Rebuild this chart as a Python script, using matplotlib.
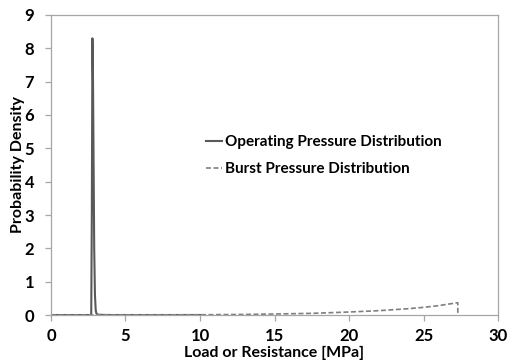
import matplotlib
matplotlib.use("Agg")
import matplotlib.pyplot as plt

plt.rcParams['font.family'] = ['Lato', 'DejaVu Sans']

op_x = [0.0, 2.70, 2.74, 2.78, 2.82, 2.86, 2.90, 2.95, 3.00, 3.05, 3.15, 3.5, 4.0, 10.0]
op_y = [0.0, 0.0, 3.0, 8.3, 7.0, 4.5, 2.0, 0.6, 0.15, 0.04, 0.01, 0.003, 0.0, 0.0]

burst_x = [0.0, 5.0, 10.0, 12.5, 15.0, 17.5, 20.0, 22.0, 24.0, 25.0, 26.0, 27.0, 27.3, 27.3]
burst_y = [0.0, 0.002, 0.008, 0.015, 0.03, 0.05, 0.09, 0.13, 0.19, 0.23, 0.28, 0.35, 0.37, 0.0]

x_ticks = [0, 5, 10, 15, 20, 25, 30]
y_ticks = [0, 1, 2, 3, 4, 5, 6, 7, 8, 9]

fig = plt.figure(figsize=(5.12, 3.62), dpi=100)
ax = fig.add_axes([0.0996, 0.1298, 0.8731, 0.8288])

ax.plot(op_x, op_y, color='#595959', lw=1.5, label='Operating Pressure Distribution')
ax.plot(burst_x, burst_y, color='#7f7f7f', lw=1.2, ls=(0, (3, 1.5)), label='Burst Pressure Distribution')

ax.set_xlim(0, 30)
ax.set_ylim(0, 9)
ax.set_xticks(x_ticks)
ax.set_yticks(y_ticks)
for s in ax.spines.values():
    s.set_color('#a6a6a6')
    s.set_linewidth(0.9)
ax.tick_params(axis='both', colors='#a6a6a6', labelcolor='black', labelsize=12, length=4, width=0.9)
ax.tick_params(axis='x', pad=5)
ax.tick_params(axis='y', pad=8)
for lab in ax.get_xticklabels() + ax.get_yticklabels():
    lab.set_fontweight('bold')
ax.set_xlabel('Load or Resistance [MPa]', fontsize=11.5, fontweight='bold', va='center')
ax.xaxis.set_label_coords(0.5, -0.125)
ax.set_ylabel('Probability Density', fontsize=11.5, fontweight='bold', va='center')
ax.yaxis.set_label_coords(-0.074, 0.5)

leg = ax.legend(loc='upper left', bbox_to_anchor=(0.315, 0.645), frameon=False,
                prop={'weight': 'bold', 'size': 11}, handlelength=1.1,
                handletextpad=0.15, labelspacing=0.85)

fig.savefig('out.png', dpi=100)
